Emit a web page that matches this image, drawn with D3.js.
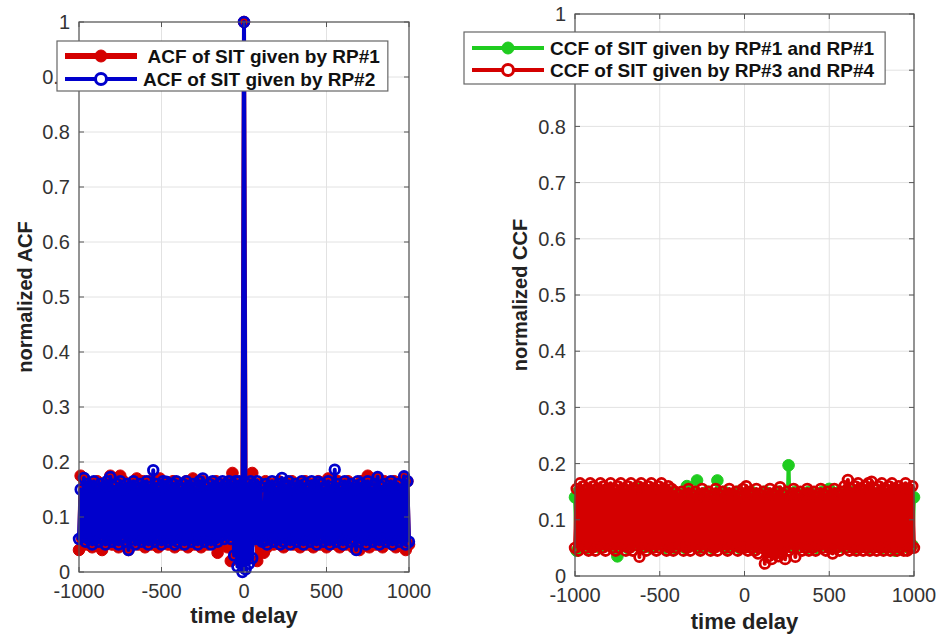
<!DOCTYPE html>
<html lang="en">
<head>
<meta charset="utf-8">
<script src="https://cdn.jsdelivr.net/npm/d3@7"></script>
<style>
  body { margin: 0; background: #ffffff; }
  svg { display: block; font-family: "Liberation Sans", Arial, sans-serif; }
  .lg text { white-space: pre; }
</style>
</head>
<body>
<script>
// lag axis (every 10th lag of the correlation)
var lags = d3.range(-1000, 1001, 10);
var xTicks = [-1000, -500, 0, 500, 1000];
var yTicks = [0, 0.1, 0.2, 0.3, 0.4, 0.5, 0.6, 0.7, 0.8, 0.9, 1];
var yTickLabels = ["0", "0.1", "0.2", "0.3", "0.4", "0.5", "0.6", "0.7", "0.8", "0.9", "1"];

var acfRP1 = [
  .04, .175, .06, .17, .05, .15, .065, .16, .045, .155, .055, .165, .06, .15, .04, .16, .05, .145, .065, .175,
  .05, .16, .06, .15, .045, .175, .055, .165, .06, .15, .04, .16, .05, .145, .065, .17, .05, .155, .06, .165,
  .045, .155, .06, .165, .05, .15, .065, .16, .045, .17, .055, .15, .06, .16, .05, .145, .06, .165, .045, .155,
  .06, .16, .05, .15, .065, .165, .045, .155, .06, .17, .05, .16, .055, .15, .045, .165, .06, .155, .05, .16,
  .055, .15, .06, .165, .035, .155, .05, .16, .06, .15, .045, .165, .02, .18, .07, .16, .09, .155, .08, .16,
  1.0, .15, .08, .165, .07, .18, .06, .155, .02, .16, .05, .15, .035, .165, .045, .155, .06, .16, .05, .15,
  .06, .165, .05, .155, .045, .16, .06, .15, .055, .165, .05, .155, .06, .16, .045, .15, .06, .165, .05, .155,
  .055, .16, .045, .15, .06, .165, .05, .155, .06, .16, .045, .17, .055, .15, .06, .16, .05, .165, .045, .155,
  .06, .15, .05, .165, .055, .16, .045, .155, .06, .15, .04, .165, .05, .16, .06, .175, .045, .155, .06, .16,
  .05, .17, .06, .155, .045, .165, .055, .15, .06, .16, .05, .165, .045, .155, .06, .16, .05, .17, .04, .165,
  .05
];
var acfRP2 = [
  .06, .15, .065, .171, .055, .16, .06, .155, .05, .165, .06, .15, .055, .16, .065, .155, .05, .165, .06, .173,
  .055, .155, .06, .16, .05, .165, .065, .15, .055, .16, .04, .155, .06, .165, .05, .15, .06, .16, .055, .155,
  .06, .165, .05, .155, .06, .185, .055, .16, .065, .15, .05, .165, .06, .164, .055, .155, .06, .16, .05, .165,
  .055, .15, .06, .16, .05, .165, .06, .155, .055, .16, .065, .15, .05, .165, .06, .17, .055, .155, .06, .16,
  .05, .165, .06, .155, .055, .16, .065, .165, .06, .16, .07, .165, .06, .16, .03, .165, .01, .165, .02, .0,
  1.0, .005, .16, .015, .165, .025, .16, .06, .165, .06, .155, .055, .06, .16, .05, .155, .065, .165, .055, .15,
  .06, .16, .05, .171, .055, .155, .06, .165, .05, .15, .065, .16, .055, .155, .06, .165, .05, .16, .06, .15,
  .055, .165, .06, .155, .05, .164, .065, .16, .055, .15, .06, .165, .05, .155, .06, .186, .055, .16, .065, .15,
  .05, .165, .06, .155, .055, .16, .06, .15, .04, .165, .055, .16, .06, .155, .05, .165, .06, .15, .055, .16,
  .06, .173, .05, .155, .065, .16, .055, .15, .06, .165, .05, .155, .06, .16, .055, .15, .06, .174, .05, .165,
  .055
];
var ccfRP1RP1 = [
  .14, .045, .15, .06, .135, .055, .145, .05, .15, .065, .14, .055, .13, .06, .15, .05, .145, .06, .135, .055,
  .15, .06, .14, .05, .145, .035, .13, .06, .15, .055, .14, .05, .145, .065, .135, .055, .15, .06, .155, .05,
  .14, .055, .15, .06, .13, .05, .145, .065, .14, .055, .15, .06, .135, .05, .145, .06, .14, .055, .15, .05,
  .135, .06, .145, .055, .14, .05, .16, .06, .15, .055, .14, .065, .17, .05, .145, .06, .135, .055, .15, .06,
  .14, .05, .145, .06, .17, .055, .135, .06, .15, .05, .14, .065, .145, .055, .13, .06, .15, .05, .14, .06,
  .145, .055, .135, .06, .15, .05, .14, .065, .145, .055, .13, .06, .15, .05, .14, .06, .145, .055, .135, .06,
  .15, .05, .14, .06, .145, .055, .197, .06, .135, .05, .15, .06, .14, .055, .145, .065, .13, .05, .15, .06,
  .14, .055, .145, .05, .135, .06, .15, .055, .14, .06, .155, .05, .145, .065, .135, .055, .15, .06, .14, .05,
  .145, .06, .135, .055, .15, .05, .14, .06, .145, .055, .13, .065, .15, .05, .14, .06, .145, .055, .135, .06,
  .15, .05, .14, .06, .145, .055, .135, .065, .15, .045, .14, .06, .145, .055, .13, .06, .15, .05, .14, .055,
  .14
];
var ccfRP3RP4 = [
  .05, .155, .045, .165, .055, .16, .05, .155, .045, .165, .05, .16, .045, .155, .055, .165, .05, .16, .045, .155,
  .055, .165, .05, .155, .045, .16, .05, .165, .055, .155, .045, .16, .05, .165, .045, .155, .055, .16, .034, .165,
  .05, .155, .045, .16, .055, .165, .05, .155, .045, .16, .05, .165, .055, .155, .045, .16, .05, .155, .045, .15,
  .05, .145, .055, .15, .045, .14, .05, .155, .045, .145, .055, .15, .05, .14, .045, .155, .05, .145, .055, .15,
  .045, .14, .05, .155, .045, .145, .055, .15, .05, .14, .045, .155, .05, .145, .055, .15, .045, .14, .05, .155,
  .05, .16, .045, .15, .05, .145, .045, .155, .04, .145, .05, .15, .022, .14, .035, .155, .03, .145, .04, .15,
  .035, .158, .04, .145, .03, .15, .045, .14, .05, .155, .034, .145, .05, .15, .045, .14, .05, .155, .045, .145,
  .05, .15, .045, .14, .055, .155, .05, .145, .045, .15, .05, .14, .04, .155, .05, .145, .045, .15, .055, .16,
  .05, .171, .045, .155, .05, .16, .045, .165, .05, .155, .045, .16, .05, .165, .045, .168, .05, .155, .045, .16,
  .05, .165, .045, .155, .05, .16, .045, .165, .05, .155, .045, .16, .05, .155, .045, .165, .045, .155, .05, .16,
  .05
];

var red = "#d40000", blue = "#0000cc", green = "#1fcc1f";
var W = 940, H = 640;

var svg = d3.select("body").append("svg")
    .attr("width", W)
    .attr("height", H);

function drawPanel(p) {
  var x = d3.scaleLinear().domain([-1000, 1000]).range([p.left, p.right]);
  var y = d3.scaleLinear().domain([0, 1]).range([p.bottom, p.top]);
  var g = svg.append("g");

  // grid
  g.selectAll(".gx").data(xTicks).enter().append("line")
      .attr("x1", d => x(d)).attr("x2", d => x(d))
      .attr("y1", p.top).attr("y2", p.bottom)
      .attr("stroke", "#e2e2e2").attr("stroke-width", 1);
  g.selectAll(".gy").data(yTicks).enter().append("line")
      .attr("x1", p.left).attr("x2", p.right)
      .attr("y1", d => y(d)).attr("y2", d => y(d))
      .attr("stroke", "#e2e2e2").attr("stroke-width", 1);

  // series: line then markers
  var line = d3.line().x((d, i) => x(lags[i])).y(d => y(d));
  p.series.forEach(function(s) {
    g.append("path")
        .datum(s.values)
        .attr("d", line)
        .attr("fill", "none")
        .attr("stroke", s.color)
        .attr("stroke-width", 4)
        .attr("stroke-linejoin", "round");
    g.append("g").selectAll("circle")
        .data(s.values).enter().append("circle")
        .attr("cx", (d, i) => x(lags[i]))
        .attr("cy", d => y(d))
        .attr("r", s.filled ? 5.8 : 4.8)
        .attr("fill", s.filled ? s.color : "none")
        .attr("stroke", s.color)
        .attr("stroke-width", s.filled ? 1 : 2.8);
  });

  // box and inner ticks (MATLAB style)
  var ax = svg.append("g");
  ax.append("rect")
      .attr("x", p.left).attr("y", p.top)
      .attr("width", p.right - p.left).attr("height", p.bottom - p.top)
      .attr("fill", "none").attr("stroke", "#555").attr("stroke-width", 1.2);
  xTicks.forEach(function(t) {
    ax.append("line").attr("x1", x(t)).attr("x2", x(t)).attr("y1", p.bottom).attr("y2", p.bottom - 5).attr("stroke", "#555");
    ax.append("line").attr("x1", x(t)).attr("x2", x(t)).attr("y1", p.top).attr("y2", p.top + 5).attr("stroke", "#555");
  });
  yTicks.forEach(function(t) {
    ax.append("line").attr("x1", p.left).attr("x2", p.left + 5).attr("y1", y(t)).attr("y2", y(t)).attr("stroke", "#555");
    ax.append("line").attr("x1", p.right).attr("x2", p.right - 5).attr("y1", y(t)).attr("y2", y(t)).attr("stroke", "#555");
  });

  ax.selectAll(".xl").data(xTicks).enter().append("text")
      .attr("x", d => x(d)).attr("y", p.bottom + 26)
      .attr("text-anchor", "middle")
      .attr("font-size", 20).attr("fill", "#333")
      .text(d => d);
  ax.selectAll(".yl").data(yTicks).enter().append("text")
      .attr("x", p.left - 9).attr("y", d => y(d)).attr("dy", "0.36em")
      .attr("text-anchor", "end")
      .attr("font-size", 20).attr("fill", "#333")
      .text((d, i) => yTickLabels[i]);

  ax.append("text")
      .attr("x", (p.left + p.right) / 2).attr("y", p.bottom + p.xlabDy)
      .attr("text-anchor", "middle")
      .attr("font-size", 22).attr("font-weight", "bold").attr("fill", "#222")
      .text("time delay");
  ax.append("text")
      .attr("transform", "translate(" + p.ylabX + "," + ((p.top + p.bottom) / 2) + ") rotate(-90)")
      .attr("text-anchor", "middle")
      .attr("font-size", 20).attr("font-weight", "bold").attr("fill", "#222")
      .text(p.ylabel);

  // legend
  var lg = svg.append("g").attr("class", "lg");
  var box = lg.append("rect")
      .attr("x", p.lg.x).attr("y", p.lg.y)
      .attr("height", p.lg.h)
      .attr("fill", "#fff").attr("stroke", "#666").attr("stroke-width", 1.2);
  var maxEnd = 0;
  p.series.forEach(function(s, i) {
    var cy = p.lg.y + p.lg.row0 + i * p.lg.rowH;
    lg.append("line")
        .attr("x1", p.lg.x + 8).attr("x2", p.lg.x + p.lg.lineW)
        .attr("y1", cy).attr("y2", cy)
        .attr("stroke", s.color).attr("stroke-width", s.legendW);
    lg.append("circle")
        .attr("cx", p.lg.x + 8 + (p.lg.lineW - 8) / 2).attr("cy", cy)
        .attr("r", s.filled ? 6 : 5.5)
        .attr("fill", s.filled ? s.color : "#fff")
        .attr("stroke", s.color).attr("stroke-width", s.filled ? 1 : 3);
    var t = lg.append("text")
        .attr("x", p.lg.x + p.lg.textX).attr("y", cy).attr("dy", "0.35em")
        .attr("font-size", 19).attr("font-weight", "bold").attr("fill", "#111")
        .text(s.label);
    var end = p.lg.x + p.lg.textX + t.node().getComputedTextLength();
    if (end > maxEnd) maxEnd = end;
  });
  box.attr("width", maxEnd + p.lg.pad - p.lg.x);
}

drawPanel({
  left: 79, right: 409, top: 22, bottom: 572,
  xlabDy: 51, ylabX: 32, ylabel: "normalized ACF",
  series: [
    { values: acfRP1, color: red, filled: true, label: " ACF of SIT given by RP#1", legendW: 6 },
    { values: acfRP2, color: blue, filled: false, label: "ACF of SIT given by RP#2", legendW: 4 }
  ],
  lg: { x: 57, y: 41, h: 50, row0: 15, rowH: 23, lineW: 80, textX: 86, pad: 8 }
});

drawPanel({
  left: 575, right: 914, top: 14, bottom: 576,
  xlabDy: 53, ylabX: 527, ylabel: "normalized CCF",
  series: [
    { values: ccfRP1RP1, color: green, filled: true, label: "CCF of SIT given by RP#1 and RP#1", legendW: 4 },
    { values: ccfRP3RP4, color: red, filled: false, label: "CCF of SIT given by RP#3 and RP#4", legendW: 4 }
  ],
  lg: { x: 464, y: 32, h: 52, row0: 16, rowH: 22, lineW: 80, textX: 86, pad: 11 }
});
</script>
</body>
</html>
